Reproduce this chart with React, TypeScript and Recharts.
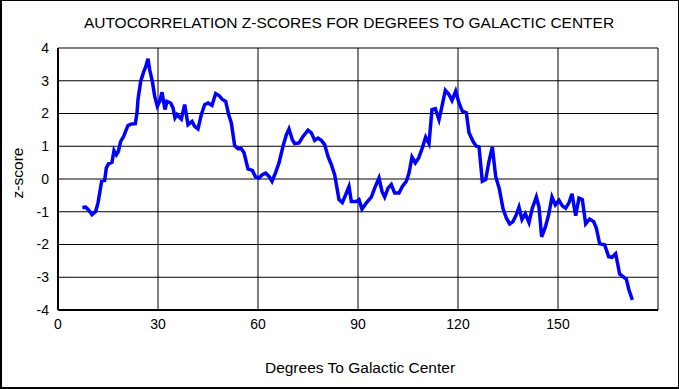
import React from 'react';
import { LineChart, Line, XAxis, YAxis, CartesianGrid } from 'recharts';

const degrees = [
  7.3, 8.3, 9.3, 10.2, 11.3, 12.0, 12.5, 13.1, 14.0, 14.5, 15.2, 16.2, 16.8, 17.5, 18.1, 18.8, 19.7, 20.3, 21.0, 22.0,
  23.2, 23.7, 24.0, 24.8, 25.7, 26.3, 27.0, 27.5, 28.3, 29.0, 29.8, 30.5, 31.2, 32.1, 32.7, 33.8, 34.5, 35.1, 35.7, 36.3,
  37.0, 38.0, 39.0, 40.2, 41.0, 42.0, 43.0, 44.0, 45.0, 46.2, 47.3, 48.3, 49.3, 50.3, 51.2, 52.0, 53.0, 54.0, 55.0, 55.8,
  57.0, 58.3, 59.3, 60.3, 61.3, 62.3, 63.3, 64.2, 65.3, 66.3, 67.5, 68.5, 69.3, 70.3, 71.0, 72.3, 73.5, 75.0, 76.0, 77.0,
  78.0, 79.0, 80.0, 81.0, 82.0, 83.0, 83.7, 84.3, 85.3, 86.3, 87.3, 88.0, 89.5, 90.3, 91.2, 92.5, 94.0, 95.0, 96.3, 97.2,
  98.0, 99.0, 100.0, 101.0, 102.3, 103.3, 104.5, 105.3, 106.2, 107.2, 108.2, 109.3, 110.3, 111.3, 112.2, 113.2, 114.3, 115.3, 116.2, 117.3,
  118.2, 119.3, 120.3, 121.3, 122.5, 123.3, 124.5, 125.5, 126.3, 127.3, 128.3, 129.3, 130.3, 131.3, 132.4, 133.5, 134.5, 135.5, 136.5, 137.5,
  138.3, 139.2, 140.2, 141.3, 142.3, 143.5, 144.3, 145.1, 146.2, 147.2, 148.2, 149.2, 150.3, 151.3, 152.3, 153.3, 154.2, 155.3, 156.3, 157.3,
  158.3, 159.5, 160.7, 161.5, 162.5, 164.0, 165.2, 166.2, 167.3, 168.5, 169.5, 170.5, 171.3, 172.3,
];

const zScores = [
  -0.87, -0.86, -0.96, -1.09, -0.99, -0.73, -0.43, -0.07, -0.04, 0.34, 0.47, 0.51, 0.87, 0.74, 0.84, 1.15, 1.30, 1.46, 1.63, 1.68,
  1.69, 2.02, 2.43, 2.98, 3.27, 3.42, 3.67, 3.34, 2.98, 2.53, 2.22, 2.37, 2.65, 2.12, 2.37, 2.32, 2.17, 1.87, 1.97, 1.90,
  1.83, 2.27, 1.66, 1.76, 1.61, 1.53, 1.97, 2.27, 2.32, 2.25, 2.61, 2.55, 2.43, 2.37, 1.97, 1.71, 1.02, 0.92, 0.92, 0.80,
  0.31, 0.26, 0.06, 0.03, 0.13, 0.18, 0.08, -0.07, 0.20, 0.49, 1.00, 1.35, 1.53, 1.20, 1.08, 1.10, 1.30, 1.49, 1.41, 1.18,
  1.25, 1.18, 1.05, 0.69, 0.44, 0.13, -0.28, -0.63, -0.72, -0.48, -0.23, -0.69, -0.69, -0.63, -0.92, -0.73, -0.55, -0.28, 0.03, -0.38,
  -0.55, -0.28, -0.17, -0.43, -0.43, -0.23, -0.07, 0.18, 0.67, 0.49, 0.64, 0.95, 1.28, 1.08, 2.12, 2.15, 1.81, 2.27, 2.71, 2.58,
  2.40, 2.68, 2.32, 2.07, 2.02, 1.41, 1.15, 1.00, 0.98, -0.07, -0.02, 0.54, 0.98, 0.08, -0.30, -0.90, -1.19, -1.37, -1.30, -1.09,
  -0.86, -1.24, -1.06, -1.33, -0.89, -0.55, -0.86, -1.77, -1.47, -1.09, -0.55, -0.79, -0.65, -0.82, -0.89, -0.72, -0.45, -1.12, -0.58, -0.63,
  -1.37, -1.22, -1.30, -1.50, -1.98, -2.01, -2.37, -2.39, -2.28, -2.90, -2.98, -3.06, -3.39, -3.69,
];

const xTicks = [0, 30, 60, 90, 120, 150, 180];
const yTicks = [-4, -3, -2, -1, 0, 1, 2, 3, 4];

const titleText = 'AUTOCORRELATION Z-SCORES FOR DEGREES TO GALACTIC CENTER';
const xLabelText = 'Degrees To Galactic Center';
const yLabelText = 'z-score';

const data = degrees.map((d, i) => ({ deg: d, z: zScores[i] }));

const FONT = "'Liberation Sans', Arial, sans-serif";
const TICK_FONT = "'Liberation Sans Narrow', 'Liberation Sans', Arial, sans-serif";

export default function App() {
  return (
    <div style={{ position: 'absolute', left: 0, top: 0, width: 679, height: 389, background: '#fff' }}>
      <LineChart
        width={679}
        height={389}
        data={data}
        margin={{ top: 48, right: 21, bottom: 49, left: 8 }}
      >
        <CartesianGrid stroke="#000" strokeWidth={1} />
        <XAxis
          dataKey="deg"
          type="number"
          domain={[0, 180]}
          ticks={xTicks}
          interval={0}
          height={30}
          tickLine={false}
          tickSize={0}
          tickMargin={9}
          axisLine={{ stroke: '#000', strokeWidth: 2 }}
          tickFormatter={(v: number) => (v === 180 ? '' : String(v))}
          tick={{ fill: '#000', fontSize: 14, fontFamily: TICK_FONT }}
        />
        <YAxis
          type="number"
          domain={[-4, 4]}
          ticks={yTicks}
          interval={0}
          width={50}
          tickLine={false}
          tickSize={0}
          tickMargin={9}
          axisLine={{ stroke: '#000', strokeWidth: 2 }}
          tick={{ fill: '#000', fontSize: 14, fontFamily: TICK_FONT }}
        />
        <Line
          dataKey="z"
          type="linear"
          stroke="#0000FF"
          strokeWidth={3.5}
          dot={false}
          isAnimationActive={false}
        />
      </LineChart>
      <svg
        width={679}
        height={389}
        style={{ position: 'absolute', left: 0, top: 0, pointerEvents: 'none' }}
      >
        <text x={349} y={28.3} textAnchor="middle" fontSize={15.5} fontFamily={FONT} fill="#000">
          {titleText}
        </text>
        <text x={360} y={372.5} textAnchor="middle" fontSize={15.5} fontFamily={FONT} fill="#000">
          {xLabelText}
        </text>
        <text
          transform="translate(23,173) rotate(-90)"
          textAnchor="middle"
          fontSize={15.5}
          fontFamily={FONT}
          fill="#000"
        >
          {yLabelText}
        </text>
      </svg>
      <div
        style={{
          position: 'absolute',
          left: 0,
          top: 0,
          width: 679,
          height: 389,
          boxSizing: 'border-box',
          borderTop: '1px solid #000',
          borderRight: '1px solid #000',
          borderLeft: '2px solid #000',
          borderBottom: '2px solid #000',
          pointerEvents: 'none',
        }}
      />
    </div>
  );
}
